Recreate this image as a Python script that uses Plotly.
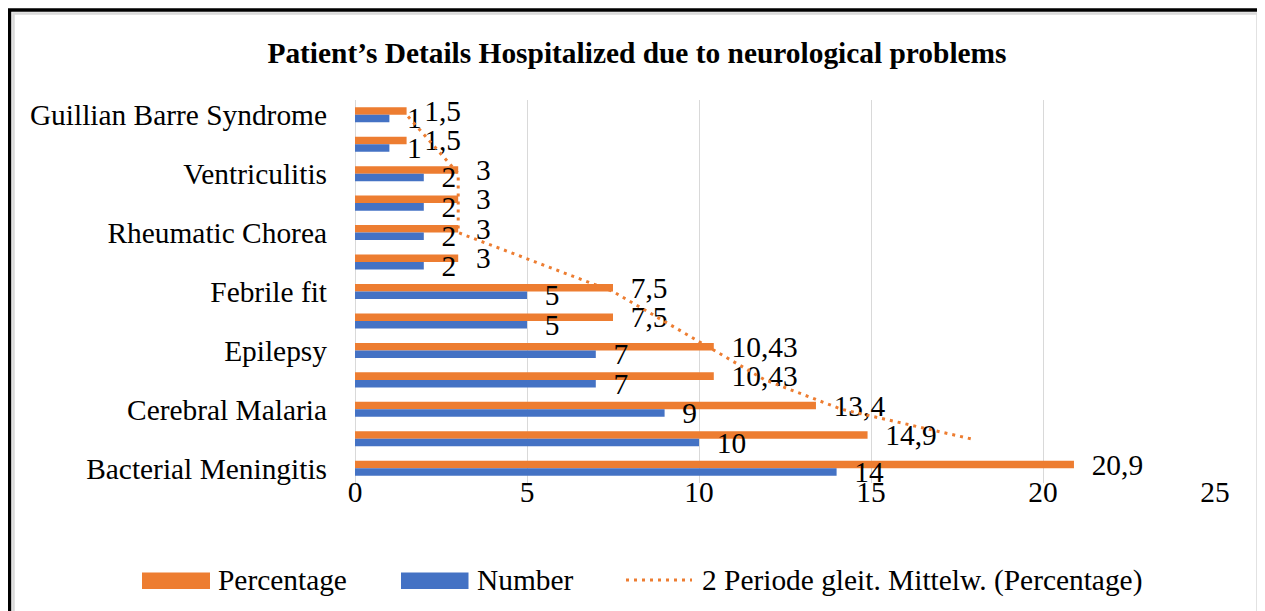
import plotly.graph_objects as go

# ---- data (bottom -> top) ----
categories = ["Bacterial Meningitis", "", "Cerebral Malaria", "", "Epilepsy", "",
              "Febrile fit", "", "Rheumatic Chorea", "", "Ventriculitis", "",
              "Guillian Barre Syndrome"]
percentage = [20.9, 14.9, 13.4, 10.43, 10.43, 7.5, 7.5, 3, 3, 3, 3, 1.5, 1.5]
number = [14, 10, 9, 7, 7, 5, 5, 2, 2, 2, 2, 1, 1]
x_ticks = [0, 5, 10, 15, 20, 25]
title_text = "Patient’s Details Hospitalized due to neurological problems"
trend_name = "2 Periode gleit. Mittelw. (Percentage)"

ORANGE = "#ED7D31"
BLUE = "#4472C4"
FONT = "Liberation Serif, Times New Roman, serif"
FS = 29.4

positions = list(range(len(categories)))

def fmt(v):
    return ("%g" % v).replace(".", ",")

# 2-period moving average trendline (as Excel computes it)
ma_y = positions[1:]
ma_x = [(percentage[i - 1] + percentage[i]) / 2 for i in range(1, len(percentage))]

# page has an 8px body margin: figure is drawn from (8, 8)
OFF = 8
W, H = 1265 - OFF, 611 - OFF
# plot area in page (reference) pixels
L, R, T, B = 355, 1215, 100, 483

def px_x(p):
    return (p - L) / (R - L)

def px_y(p):
    return (B - p) / (B - T)

BAR_W = 0.255

fig = go.Figure()
fig.add_trace(go.Bar(
    name="Percentage", y=positions, x=percentage, orientation="h",
    width=BAR_W, offset=0,
    marker=dict(color=ORANGE, line=dict(width=0)),
    text=["\u00a0\u00a0" + fmt(v) for v in percentage],
    textposition="outside", constraintext="none", cliponaxis=False,
    textfont=dict(family=FONT, size=FS, color="black"),
    showlegend=False,
))
fig.add_trace(go.Bar(
    name="Number", y=positions, x=number, orientation="h",
    width=BAR_W, offset=-BAR_W,
    marker=dict(color=BLUE, line=dict(width=0)),
    text=["\u00a0\u00a0" + fmt(v) for v in number],
    textposition="outside", constraintext="none", cliponaxis=False,
    textfont=dict(family=FONT, size=FS, color="black"),
    showlegend=False,
))
fig.add_trace(go.Scatter(
    name=trend_name, x=ma_x, y=ma_y, mode="lines",
    line=dict(color=ORANGE, width=3, dash="3px,5px"),
    showlegend=False, cliponaxis=False,
))

tickvals = [p for p, c in zip(positions, categories) if c]
ticktext = [c for c in categories if c]

shapes = [
    # outer frame
    dict(type="rect", xref="paper", yref="paper",
         x0=px_x(13.5), x1=px_x(1257.5), y0=px_y(640), y1=px_y(13.5),
         line=dict(color="#D9D9D9", width=2.5), layer="below"),
    dict(type="rect", xref="paper", yref="paper",
         x0=px_x(9.5), x1=px_x(1261.5), y0=px_y(640), y1=px_y(10),
         line=dict(color="black", width=3.5), layer="below"),
    # legend swatches
    dict(type="rect", xref="paper", yref="paper",
         x0=px_x(142), x1=px_x(210), y0=px_y(589), y1=px_y(572.5),
         fillcolor=ORANGE, line=dict(width=0)),
    dict(type="rect", xref="paper", yref="paper",
         x0=px_x(401), x1=px_x(468.5), y0=px_y(589), y1=px_y(572.5),
         fillcolor=BLUE, line=dict(width=0)),
    dict(type="line", xref="paper", yref="paper",
         x0=px_x(626), x1=px_x(692), y0=px_y(580), y1=px_y(580),
         line=dict(color=ORANGE, width=3, dash="3px,5px")),
]

annotations = [
    dict(text="Percentage", x=px_x(216), y=px_y(580), xref="paper", yref="paper",
         xanchor="left", yanchor="middle", showarrow=False,
         font=dict(family=FONT, size=FS, color="black")),
    dict(text="Number", x=px_x(475), y=px_y(580), xref="paper", yref="paper",
         xanchor="left", yanchor="middle", showarrow=False,
         font=dict(family=FONT, size=FS, color="black")),
    dict(text=trend_name, x=px_x(700), y=px_y(580), xref="paper", yref="paper",
         xanchor="left", yanchor="middle", showarrow=False,
         font=dict(family=FONT, size=FS, color="black")),
]

fig.update_layout(
    width=W, height=H,
    margin=dict(l=L - OFF, r=W - (R - OFF), t=T - OFF, b=H - (B - OFF), pad=0),
    paper_bgcolor="white", plot_bgcolor="white",
    barmode="overlay",
    title=dict(text="<b>" + title_text + "</b>", x=(637 - OFF) / W, xanchor="center",
               y=1 - (53 - OFF) / H, yanchor="middle", yref="container",
               font=dict(family=FONT, size=FS, color="black")),
    font=dict(family=FONT, size=FS, color="black"),
    showlegend=False,
    shapes=shapes, annotations=annotations,
    xaxis=dict(range=[0, 25], tickvals=x_ticks, showgrid=True,
               gridcolor="#D9D9D9", gridwidth=1.3, zeroline=True,
               zerolinecolor="#D9D9D9", zerolinewidth=1.3, showline=False,
               ticks="", ticklabelstandoff=-11,
               tickfont=dict(family=FONT, size=FS, color="black")),
    yaxis=dict(range=[-0.5, 12.5], tickvals=tickvals, ticktext=ticktext,
               showgrid=False, zeroline=False, showline=False, ticks="",
               ticklabelstandoff=27,
               tickfont=dict(family=FONT, size=FS, color="black")),
)

fig.write_html("out.html")
